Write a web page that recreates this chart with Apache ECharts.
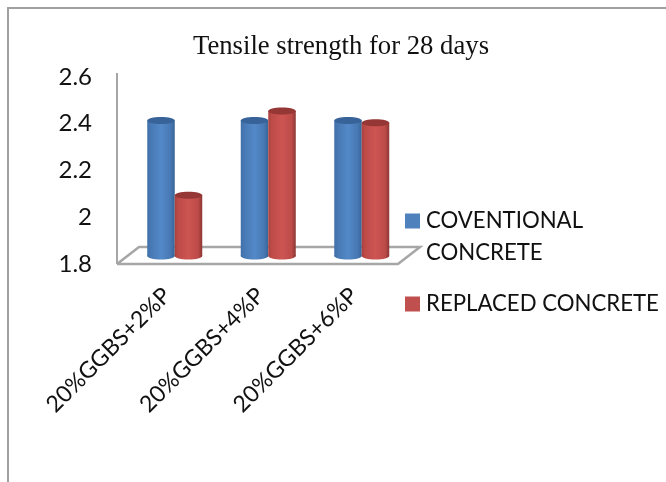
<!DOCTYPE html>
<html><head><meta charset="utf-8">
<style>html,body{margin:0;padding:0;background:#fff}#c{width:666px;height:482px}</style>
<script src="https://cdn.jsdelivr.net/npm/echarts@6/dist/echarts.min.js"></script>
</head><body><div id="c"></div>
<script>
const categories = ['20%GGBS+2%P','20%GGBS+4%P','20%GGBS+6%P'];
const conventional = [2.38,2.38,2.38];
const replaced = [2.06,2.42,2.37];
const seriesNames = ['COVENTIONAL\nCONCRETE','REPLACED CONCRETE'];
const yTicks = {min:1.8,max:2.6,interval:0.2};

const grad = (a,b,c,d) => ({type:'linear',x:0,y:0,x2:1,y2:0,colorStops:[
  {offset:0,color:a},{offset:0.12,color:b},{offset:0.5,color:c},{offset:0.85,color:b},{offset:1,color:d}]});
const palettes = [
  {body:grad('#3f70a8','#4778b3','#5389c8','#386496'), top:'#376398', legend:'#4f81bd'},
  {body:grad('#a8413e','#bd4b48','#cd5552','#8c3634'), top:'#953735', legend:'#c0504d'}
];
const W = 27.5, RY = 3.5, DEPTH = 8;

function cylinder(side, pal){
  return function(params, api){
    const top = api.coord([api.value(0), api.value(1)]);
    const base = api.coord([api.value(0), yTicks.min]);
    const cx = top[0] + side * W / 2;
    const yT = top[1] - DEPTH, yB = base[1] - DEPTH;
    return {type:'group', children:[
      {type:'ellipse', shape:{cx:cx, cy:yB, rx:W/2, ry:RY}, style:{fill:pal.body}},
      {type:'rect', shape:{x:cx-W/2, y:yT, width:W, height:yB-yT}, style:{fill:pal.body}},
      {type:'ellipse', shape:{cx:cx, cy:yT, rx:W/2, ry:RY}, style:{fill:pal.top}}
    ]};
  };
}
function floor(params, api){
  const g = params.coordSys, s = {stroke:'#a6a6a6', lineWidth:2.5, fill:'none'};
  const x0 = g.x - 11, y0 = g.y + g.height, dx = 22, dy = 17, w = 281;
  return {type:'group', silent:true, children:[
    {type:'polyline', shape:{points:[[x0,y0],[x0+w,y0],[x0+w+dx,y0-dy],[x0+dx,y0-dy],[x0,y0]]}, style:s},
    {type:'line', shape:{x1:x0, y1:y0, x2:x0, y2:g.y-4}, style:{stroke:'#a6a6a6', lineWidth:2}}
  ]};
}
const chart = echarts.init(document.getElementById('c'), null, {renderer:'canvas'});
chart.setOption({
  animation:false,
  backgroundColor:'#fff',
  title:{text:'Tensile strength for 28 days', left:336, top:28, textAlign:'center',
    textStyle:{fontFamily:'Liberation Serif', fontSize:26.7, fontWeight:'normal', color:'#111'}},
  grid:{left:128, top:77, width:280.5, height:187},
  xAxis:{type:'category', data:categories, axisLine:{show:false}, axisTick:{show:false},
    axisLabel:{interval:0, rotate:45, margin:20, padding:[0,11,0,0], fontFamily:'Lato', fontSize:23, color:'#111'}},
  yAxis:{type:'value', min:yTicks.min, max:yTicks.max, interval:yTicks.interval, offset:12,
    splitLine:{show:false}, axisTick:{show:false}, axisLine:{show:false},
    axisLabel:{margin:24, fontFamily:'Lato', fontSize:24, color:'#111',
      formatter:v=>String(+v.toFixed(1))}},
  legend:[
    {data:[{name:seriesNames[0], icon:'path://M0 0H15V15H0Z M15.99 46.99H16V47H15.99Z'}], orient:'vertical', left:405, top:205,
      itemWidth:16, itemHeight:47, itemGap:0, padding:0, symbolKeepAspect:false,
      textStyle:{fontFamily:'Lato', fontSize:22.2, color:'#111', lineHeight:32}},
    {data:[{name:seriesNames[1], icon:'path://M0 0H15V15H0Z M15.99 14.99H16V15H15.99Z'}], orient:'vertical', left:405, top:293,
      itemWidth:16, itemHeight:15, padding:0, symbolKeepAspect:false,
      textStyle:{fontFamily:'Lato', fontSize:22.2, color:'#111'}}
  ],
  graphic:[{type:'polyline', silent:true, shape:{points:[[8,482],[8,8],[666,8]]}, style:{stroke:'#a0a0a0', lineWidth:2, fill:'none'}}],
  series:[
    {type:'custom', name:'floor', data:[[0,1.8]], renderItem:floor, clip:false, z:1, silent:true},
    {type:'custom', name:seriesNames[0], itemStyle:{color:palettes[0].legend}, clip:false, z:2,
     data:conventional.map((v,i)=>[i,v]), encode:{x:0,y:1}, renderItem:cylinder(-1,palettes[0])},
    {type:'custom', name:seriesNames[1], itemStyle:{color:palettes[1].legend}, clip:false, z:3,
     data:replaced.map((v,i)=>[i,v]), encode:{x:0,y:1}, renderItem:cylinder(1,palettes[1])}
  ]
});
</script></body></html>
